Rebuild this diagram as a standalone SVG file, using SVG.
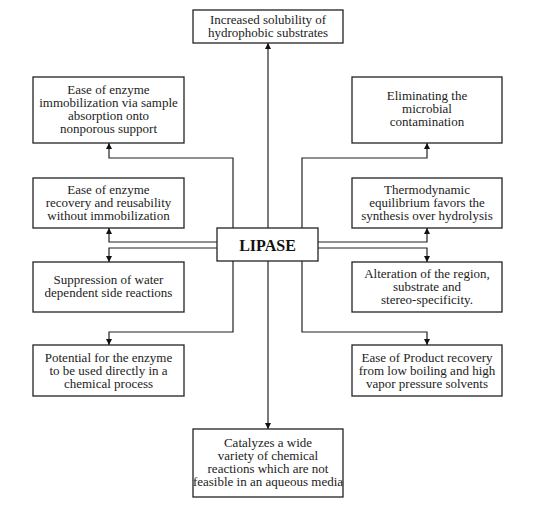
<svg xmlns="http://www.w3.org/2000/svg" width="534" height="513" viewBox="0 0 534 513">
<style>
.box{fill:#fff;stroke:#222;stroke-width:1.3}
.t{font-family:"Liberation Serif","Times New Roman",serif;font-size:13px;fill:#222;text-anchor:middle}
.lip{font-family:"Liberation Serif","Times New Roman",serif;font-size:16px;font-weight:bold;fill:#111;text-anchor:middle}
.c{fill:none;stroke:#222;stroke-width:1.2}
</style>
<defs>
<marker id="ah" viewBox="0 0 10 10" refX="10" refY="5" markerWidth="6" markerHeight="6" markerUnits="userSpaceOnUse" orient="auto">
<path d="M0,0 L10,5 L0,10 z" fill="#111"/>
</marker>
</defs>
<rect width="534" height="513" fill="#fff"/>
<g id="connectors">
<path class="c" d="M268,228 V43" marker-end="url(#ah)"/>
<path class="c" d="M268,261 V429" marker-end="url(#ah)"/>
<path class="c" d="M233,228 V158 H109 V143" marker-end="url(#ah)"/>
<path class="c" d="M302,228 V158 H427 V143" marker-end="url(#ah)"/>
<path class="c" d="M217,242 H109 V228" marker-end="url(#ah)"/>
<path class="c" d="M217,248 H109 V262" marker-end="url(#ah)"/>
<path class="c" d="M318,242 H427 V228" marker-end="url(#ah)"/>
<path class="c" d="M318,248 H427 V262" marker-end="url(#ah)"/>
<path class="c" d="M233,261 V332 H109 V345" marker-end="url(#ah)"/>
<path class="c" d="M302,261 V332 H427 V345" marker-end="url(#ah)"/>
</g>
<g id="lipase">
<rect class="box" x="217" y="228" width="101" height="33"/>
<text class="lip" x="267.5" y="250.5">LIPASE</text>
</g>
<g id="n-top">
<rect class="box" x="193" y="10" width="150" height="33"/>
<text class="t" x="268" y="24">Increased solubility of</text>
<text class="t" x="268" y="37">hydrophobic substrates</text>
</g>
<g id="n-l1">
<rect class="box" x="33" y="77" width="151" height="66"/>
<text class="t" x="108.5" y="94">Ease of enzyme</text>
<text class="t" x="108.5" y="107">immobilization via sample</text>
<text class="t" x="108.5" y="120">absorption onto</text>
<text class="t" x="108.5" y="133">nonporous support</text>
</g>
<g id="n-r1">
<rect class="box" x="352" y="77" width="150" height="66"/>
<text class="t" x="427" y="100">Eliminating the</text>
<text class="t" x="427" y="113">microbial</text>
<text class="t" x="427" y="126">contamination</text>
</g>
<g id="n-l2">
<rect class="box" x="33" y="178" width="151" height="50"/>
<text class="t" x="108.5" y="194">Ease of enzyme</text>
<text class="t" x="108.5" y="207">recovery and reusability</text>
<text class="t" x="108.5" y="220">without immobilization</text>
</g>
<g id="n-r2">
<rect class="box" x="352" y="178" width="150" height="50"/>
<text class="t" x="427" y="194">Thermodynamic</text>
<text class="t" x="427" y="207">equilibrium favors the</text>
<text class="t" x="427" y="220">synthesis over hydrolysis</text>
</g>
<g id="n-l3">
<rect class="box" x="33" y="262" width="151" height="50"/>
<text class="t" x="108.5" y="284">Suppression of water</text>
<text class="t" x="108.5" y="297">dependent side reactions</text>
</g>
<g id="n-r3">
<rect class="box" x="352" y="262" width="150" height="50"/>
<text class="t" x="427" y="278">Alteration of the region,</text>
<text class="t" x="427" y="291">substrate and</text>
<text class="t" x="427" y="304">stereo-specificity.</text>
</g>
<g id="n-l4">
<rect class="box" x="33" y="345" width="151" height="51"/>
<text class="t" x="108.5" y="362">Potential for the enzyme</text>
<text class="t" x="108.5" y="375">to be used directly in a</text>
<text class="t" x="108.5" y="388">chemical process</text>
</g>
<g id="n-r4">
<rect class="box" x="352" y="345" width="150" height="51"/>
<text class="t" x="427" y="362">Ease of Product recovery</text>
<text class="t" x="427" y="375">from low boiling and high</text>
<text class="t" x="427" y="388">vapor pressure solvents</text>
</g>
<g id="n-bottom">
<rect class="box" x="193" y="429" width="150" height="68"/>
<text class="t" x="268" y="447">Catalyzes a wide</text>
<text class="t" x="268" y="460">variety of chemical</text>
<text class="t" x="268" y="473">reactions which are not</text>
<text class="t" x="268" y="486">feasible in an aqueous media</text>
</g>
</svg>
